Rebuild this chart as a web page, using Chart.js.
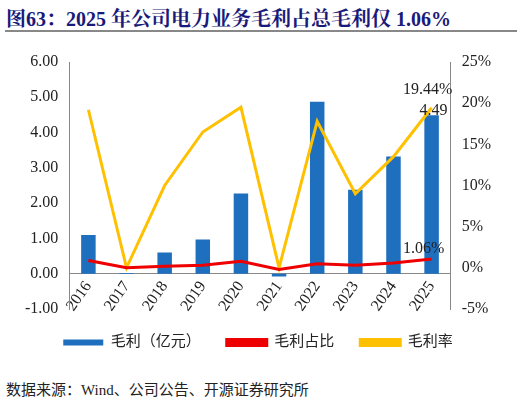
<!DOCTYPE html><html><head><meta charset="utf-8">
<script src="https://cdn.jsdelivr.net/npm/chart.js@4"></script>
<style>body{margin:0;width:522px;height:405px;background:#fff;position:relative;font-family:"Liberation Serif","Noto Sans CJK SC",serif}
#t{position:absolute;left:6px;top:3px;font-size:20px;font-weight:bold;color:#1a1a7a;font-family:"Liberation Serif","Noto Serif CJK SC","Noto Sans CJK SC",serif}
#l{position:absolute;left:5px;top:30px;width:512px;height:2px;background:#888}
#s{position:absolute;left:6px;top:378px;font-size:15px;color:#222;font-family:"Liberation Serif","Noto Sans CJK SC",serif}
#w{position:absolute;left:0;top:40px;width:522px;height:320px}</style></head><body>
<div id="t">图63：2025 年公司电力业务毛利占总毛利仅 1.06%</div><div id="l"></div>
<div id="w"><canvas id="c"></canvas></div>
<div id="s">数据来源：Wind、公司公告、开源证券研究所</div>
<script>
const years=['2016','2017','2018','2019','2020','2021','2022','2023','2024','2025'];
const grossProfit=[1.10,0.02,0.60,0.97,2.27,-0.08,4.87,2.38,3.32,4.49];
const shareRatio=[0.9,0.0,0.2,0.3,0.8,-0.2,0.5,0.3,0.6,1.06];
const marginRate=[19.2,0.0,10.0,16.5,19.5,0.0,17.8,9.0,13.5,19.44];
const F="'Liberation Serif','Noto Sans CJK SC',serif";
const lab={id:'lab',afterDatasetsDraw(ch){const c=ch.ctx;c.save();c.font='16px '+F;c.fillStyle='#222';c.textAlign='center';
const i=9;let p=ch.getDatasetMeta(0).data[i];c.fillText('4.49',p.x+2,p.y-4);
p=ch.getDatasetMeta(2).data[i];c.fillText('19.44%',p.x-4,p.y-18);
p=ch.getDatasetMeta(1).data[i];c.fillText('1.06%',p.x-8,p.y-10);c.restore();}};
new Chart(document.getElementById('c'),{data:{labels:years,datasets:[
{type:'bar',label:'毛利（亿元）',data:grossProfit,backgroundColor:'#1f6fbf',yAxisID:'y',barPercentage:0.38,categoryPercentage:1,order:3},
{type:'line',label:'毛利占比',data:shareRatio,borderColor:'#ee0000',backgroundColor:'#ee0000',borderWidth:3,pointRadius:0,yAxisID:'y2',order:1},
{type:'line',label:'毛利率',data:marginRate,borderColor:'#ffc000',backgroundColor:'#ffc000',borderWidth:3,pointRadius:0,yAxisID:'y2',order:2}]},
plugins:[lab],
options:{animation:false,responsive:true,maintainAspectRatio:false,layout:{padding:{left:22,right:28,top:22,bottom:0}},
plugins:{legend:{position:'bottom',labels:{sort:(a,b)=>a.datasetIndex-b.datasetIndex,font:{size:15,family:F},color:'#222',boxWidth:40,boxHeight:6,padding:26}},tooltip:{enabled:false}},
scales:{x:{position:{y:0},grid:{display:false,drawTicks:false},border:{color:'#888'},ticks:{font:{size:16,family:F},color:'#222',maxRotation:55,minRotation:55,padding:4}},
y:{min:-1,max:6,ticks:{stepSize:1,callback:v=>v.toFixed(2),font:{size:16,family:F},color:'#222'},grid:{display:false},border:{color:'#888'}},
y2:{position:'right',min:-5,max:25,ticks:{stepSize:5,callback:v=>v+'%',font:{size:16,family:F},color:'#222'},grid:{display:false},border:{color:'#888'}}}}});
</script></body></html>
